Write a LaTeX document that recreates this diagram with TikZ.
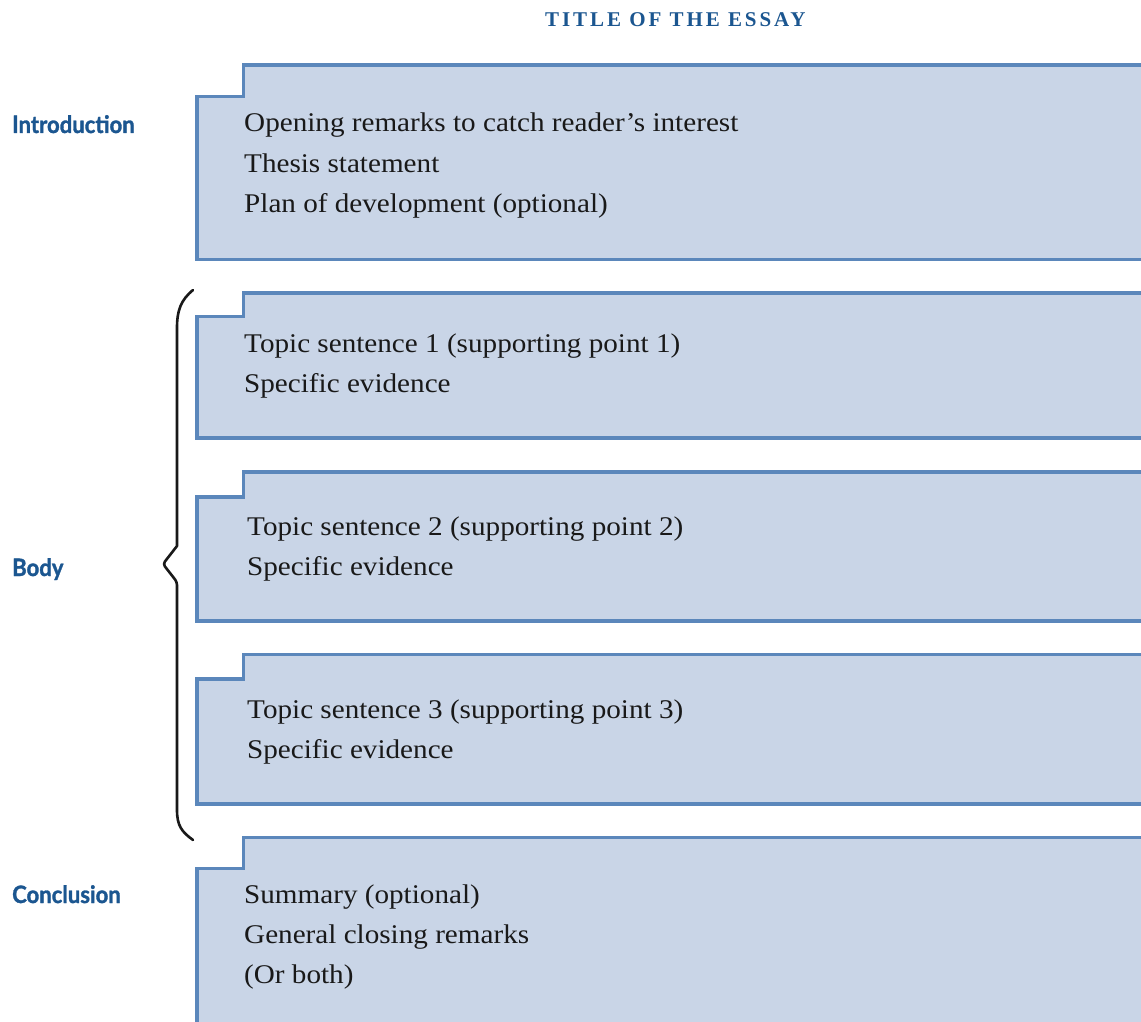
\documentclass[tikz,border=0pt]{standalone}
\usepackage{fontspec}
\setmainfont{Liberation Serif}
\newfontfamily\bodyfont[FakeStretch=1.08]{Liberation Serif}
\newfontfamily\labfont[FakeStretch=0.92, BoldFeatures={FakeBold=1.3}]{Lato}
\newfontfamily\titlefont[LetterSpace=14]{Liberation Serif}
\definecolor{boxline}{HTML}{5B87BB}
\definecolor{boxfill}{HTML}{C9D5E7}
\definecolor{labblue}{HTML}{1B5690}
\tikzset{
  essaybox/.style={draw=boxline, fill=boxfill, line width=3.8pt, line join=miter},
  txt/.style={anchor=base west, inner sep=0pt, font=\bodyfont\fontsize{27}{32}\selectfont, text=black!90},
  lab/.style={anchor=base west, inner sep=0pt, font=\labfont\bfseries\fontsize{24}{28}\selectfont, text=labblue},
  bracestyle/.style={draw=black!90, line width=2.6pt, line cap=round, line join=round}
}
\begin{document}
\begin{tikzpicture}[x=1pt, y=-1pt]
\useasboundingbox (0,0) rectangle (1141,1022);
\fill[white] (0,0) rectangle (1141,1022);
\clip (0,0) rectangle (1141,1022);

% title
\node[anchor=base west, inner sep=0pt, font=\titlefont\bfseries\fontsize{21}{24}\selectfont, text=labblue] (title) at (545,27) {TITLE OF THE ESSAY};

% boxes
\path[essaybox] (1150,65) -- (243.5,65) -- (243.5,96.5) -- (197,96.5) -- (197,259.5) -- (1150,259.5);
\path[essaybox] (1150,293) -- (243.5,293) -- (243.5,316.5) -- (197,316.5) -- (197,438) -- (1150,438);
\path[essaybox] (1150,472) -- (243.5,472) -- (243.5,497) -- (197,497) -- (197,621) -- (1150,621);
\path[essaybox] (1150,654.5) -- (243.5,654.5) -- (243.5,679) -- (197,679) -- (197,804) -- (1150,804);
\path[essaybox] (1150,837.5) -- (243.5,837.5) -- (243.5,868.5) -- (197,868.5) -- (197,1040) -- (1150,1040);

% box texts
\node[txt] (i1) at (244,132) {Opening remarks to catch reader’s interest};
\node[txt] (i2) at (244,172) {Thesis statement};
\node[txt] (i3) at (244,212) {Plan of development (optional)};

\node[txt] (a1) at (244,352) {Topic sentence 1 (supporting point 1)};
\node[txt] (a2) at (244,392) {Specific evidence};

\node[txt] (b1) at (247,535) {Topic sentence 2 (supporting point 2)};
\node[txt] (b2) at (247,575) {Specific evidence};

\node[txt] (c1) at (247,718) {Topic sentence 3 (supporting point 3)};
\node[txt] (c2) at (247,758) {Specific evidence};

\node[txt] (d1) at (244,903) {Summary (optional)};
\node[txt] (d2) at (244,943) {General closing remarks};
\node[txt] (d3) at (244,983) {(Or both)};

% side labels
\node[lab] (intro) at (12,133) {Introduction};
\node[lab] (body) at (12,576) {Body};
\node[lab] (concl) at (12,903) {Conclusion};

% brace
\draw[bracestyle] (193,290) .. controls (181,300) and (177,310) .. (177,328) -- (177,546)
  [rounded corners=3pt] -- (163,564) -- (177,582) [sharp corners] -- (177,810)
  .. controls (177,826) and (182,832) .. (193,840);
\end{tikzpicture}
\end{document}
